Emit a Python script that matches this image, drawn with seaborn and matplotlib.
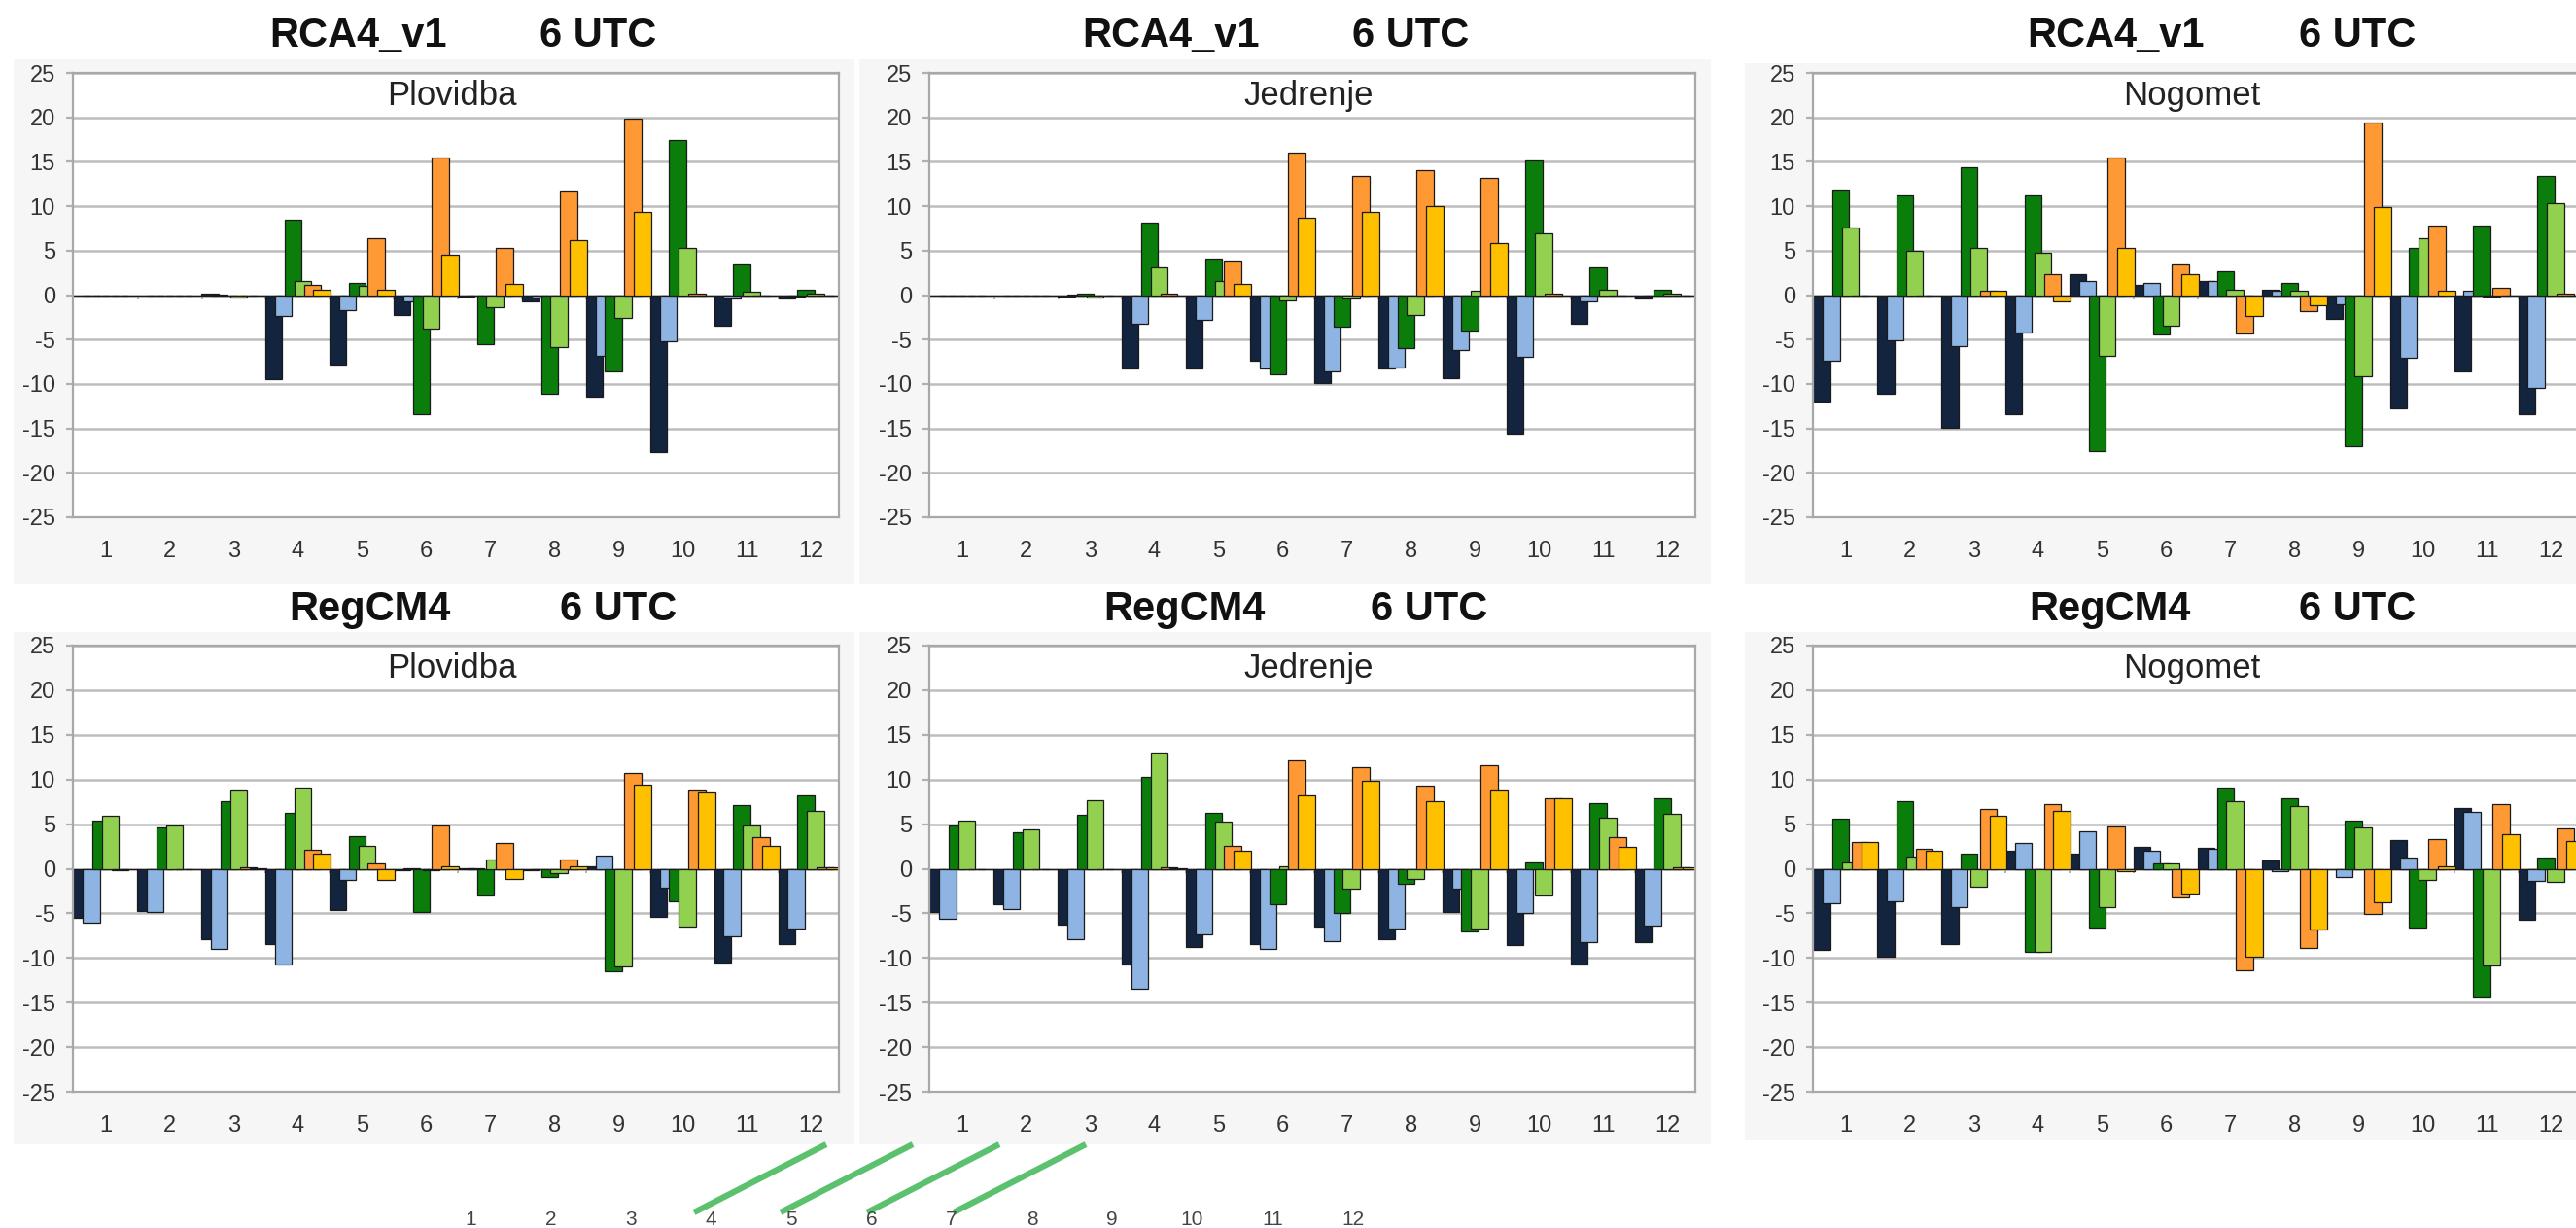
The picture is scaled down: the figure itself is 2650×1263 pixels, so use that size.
import numpy as np
import pandas as pd
import matplotlib
matplotlib.use("Agg")
import matplotlib.pyplot as plt
import seaborn as sns
from matplotlib.patches import Rectangle
from matplotlib.lines import Line2D

# ---------------- data ----------------
months = list(range(1, 13))
month_labels = [str(m) for m in months]
yticks = list(range(-25, 30, 5))
ytick_labels = [str(v) for v in yticks]
series_colors = ["#13243f", "#8db4e2", "#0b7d0b", "#92d050", "#ff9933", "#ffc000"]

# rows: navy, light blue, dark green, light green, orange, yellow ; columns: months 1..12
rca4_plovidba = [
    [0, 0, 0.2, -9.5, -7.8, -2.2, -0.2, -0.7, -11.4, -17.7, -3.5, -0.4],
    [0, 0, 0.1, -2.4, -1.7, -0.7, -0.1, -0.3, -6.8, -5.2, -0.4, -0.2],
    [0, 0, -0.1, 8.5, 1.4, -13.4, -5.5, -11.1, -8.6, 17.5, 3.4, 0.6],
    [0, 0, -0.3, 1.6, 1.0, -3.8, -1.4, -5.9, -2.6, 5.3, 0.4, 0.2],
    [0, 0, 0, 1.1, 6.4, 15.5, 5.3, 11.8, 19.9, 0.2, 0, 0],
    [0, 0, 0, 0.6, 0.6, 4.5, 1.3, 6.2, 9.3, 0, 0, 0],
]
rca4_jedrenje = [
    [0, 0, -0.2, -8.3, -8.3, -7.4, -9.9, -8.3, -9.4, -15.6, -3.2, -0.4],
    [0, 0, 0.1, -3.2, -2.8, -8.3, -8.6, -8.1, -6.2, -6.9, -0.7, -0.1],
    [0, 0, 0.2, 8.1, 4.1, -8.9, -3.6, -6.0, -4.0, 15.2, 3.1, 0.6],
    [0, 0, -0.3, 3.1, 1.6, -0.6, -0.4, -2.2, 0.5, 7.0, 0.6, 0.2],
    [0, 0, 0, 0.2, 3.9, 16.0, 13.4, 14.1, 13.2, 0.2, 0, 0],
    [0, 0, 0, 0, 1.3, 8.7, 9.3, 10.0, 5.9, 0, 0, 0],
]
rca4_nogomet = [
    [-12.0, -11.1, -14.9, -13.4, 2.3, 1.2, 1.6, 0.6, -2.7, -12.8, -8.6, -13.4],
    [-7.4, -5.1, -5.7, -4.2, 1.6, 1.4, 1.6, 0.5, -1.0, -7.1, 0.5, -10.5],
    [11.9, 11.2, 14.4, 11.2, -17.6, -4.4, 2.7, 1.4, -17.0, 5.3, 7.8, 13.4],
    [7.6, 5.0, 5.3, 4.8, -6.8, -3.5, 0.6, 0.5, -9.1, 6.4, -0.2, 10.3],
    [0, 0, 0.5, 2.3, 15.5, 3.4, -4.3, -1.8, 19.4, 7.8, 0.8, 0.2],
    [0, 0, 0.5, -0.7, 5.3, 2.3, -2.3, -1.2, 9.9, 0.5, -0.1, 0],
]
regcm4_plovidba = [
    [-5.5, -4.7, -7.9, -8.4, -4.6, -0.2, 0.1, -0.2, 0.3, -5.4, -10.5, -8.4],
    [-6.1, -4.9, -9.0, -10.7, -1.3, 0.1, 0.1, -0.1, 1.5, -2.1, -7.6, -6.75],
    [5.4, 4.6, 7.6, 6.25, 3.7, -4.9, -3.0, -0.9, -11.5, -3.6, 7.1, 8.25],
    [5.9, 4.8, 8.75, 9.1, 2.6, -0.2, 1.0, -0.5, -10.9, -6.5, 4.8, 6.5],
    [-0.2, 0, 0.2, 2.1, 0.6, 4.8, 2.9, 1.0, 10.75, 8.8, 3.5, 0.2],
    [0, 0, 0.1, 1.7, -1.3, 0.3, -1.1, 0.3, 9.4, 8.5, 2.6, 0.2],
]
regcm4_jedrenje = [
    [-4.9, -4.0, -6.25, -10.7, -8.8, -8.4, -6.5, -7.9, -4.9, -8.6, -10.7, -8.2],
    [-5.6, -4.5, -7.9, -13.4, -7.4, -9.0, -8.1, -6.75, -2.2, -5.0, -8.2, -6.4],
    [4.9, 4.1, 6.0, 10.25, 6.25, -4.0, -5.0, -1.7, -7.0, 0.7, 7.3, 7.9],
    [5.4, 4.4, 7.7, 13.0, 5.3, 0.3, -2.2, -1.1, -6.75, -3.0, 5.7, 6.2],
    [0, 0, 0, 0.2, 2.6, 12.2, 11.4, 9.3, 11.6, 7.9, 3.5, 0.2],
    [0, 0, 0, 0.1, 2.0, 8.25, 9.9, 7.6, 8.75, 7.9, 2.5, 0.2],
]
regcm4_nogomet = [
    [-9.1, -9.9, -8.4, 2.0, 1.7, 2.5, 2.3, 0.9, 0, 3.2, 6.85, -5.75],
    [-3.9, -3.6, -4.3, 2.85, 4.2, 2.0, 2.2, -0.3, -0.9, 1.2, 6.4, -1.4],
    [5.6, 7.6, 1.7, -9.3, -6.6, 0.55, 9.05, 7.95, 5.35, -6.6, -14.3, 1.2],
    [0.75, 1.4, -2.0, -9.3, -4.3, 0.55, 7.6, 7.05, 4.6, -1.25, -10.8, -1.5],
    [3.05, 2.2, 6.75, 7.25, 4.75, -3.2, -11.4, -8.9, -5.1, 3.35, 7.25, 4.5],
    [3.05, 2.0, 5.9, 6.5, -0.3, -2.8, -9.9, -6.8, -3.8, 0.25, 3.9, 3.1],
]

model_names = ["RCA4_v1", "RegCM4"]
hour_label = "6 UTC"
activities = ["Plovidba", "Jedrenje", "Nogomet"]
panel_data = [[rca4_plovidba, rca4_jedrenje, rca4_nogomet],
              [regcm4_plovidba, regcm4_jedrenje, regcm4_nogomet]]

# ---------------- layout (pixels) ----------------
W, H, DPI = 2650, 1263, 100
sns.set_theme(style="white")
plt.rcParams["font.family"] = ["Liberation Sans", "DejaVu Sans"]

fig = plt.figure(figsize=(W / DPI, H / DPI), dpi=DPI, facecolor="white")


def rect(x0, y0, x1, y1):
    return [x0 / W, 1 - y1 / H, (x1 - x0) / W, (y1 - y0) / H]


bg_boxes = [[(14, 61, 879, 601), (884, 61, 1760, 601), (1795, 65, 2660, 601)],
            [(14, 650, 879, 1177), (884, 650, 1760, 1177), (1795, 650, 2660, 1172)]]
plot_left = [75, 956, 1865]
plot_w = 788
row_y = [(75, 532), (664, 1123)]
title_y = [37, 627]
model_x = [[368, 1204, 2177], [380, 1218, 2170]]
utc_x = [[615, 1451, 2425], [636, 1470, 2425]]

step = 0.15
bar_w = 0.265
boundaries = [m + 0.5 for m in months[:-1]]

for r in range(2):
    for c in range(3):
        x0, y0, x1, y1 = bg_boxes[r][c]
        fig.add_artist(Rectangle((x0 / W, 1 - y1 / H), (x1 - x0) / W, (y1 - y0) / H,
                                 transform=fig.transFigure, facecolor="#f6f6f6",
                                 edgecolor="none", zorder=-10))
        fig.text(model_x[r][c] / W, 1 - title_y[r] / H, model_names[r], ha="center",
                 va="center", fontsize=30, fontweight="bold", color="#111111")
        fig.text(utc_x[r][c] / W, 1 - title_y[r] / H, hour_label, ha="center",
                 va="center", fontsize=30, fontweight="bold", color="#111111")

        ax = fig.add_axes(rect(plot_left[c], row_y[r][0], plot_left[c] + plot_w, row_y[r][1]))
        ax.set_facecolor("white")
        ax.set_axisbelow(True)
        # small category tick marks hanging below the zero line
        ax.vlines(boundaries, -0.45, 0, color="#b0b0b0", linewidth=1.4, zorder=0.5)
        data = panel_data[r][c]
        for i, vals in enumerate(data):
            xpos = np.array(months, dtype=float) + (i - 2.5) * step
            df = pd.DataFrame({"pos": xpos, "value": vals})
            sns.barplot(data=df, x="pos", y="value", native_scale=True, width=bar_w,
                        color=series_colors[i], saturation=1, edgecolor="#1a1a1a",
                        linewidth=0.9, errorbar=None, ax=ax)
        ax.set_xlim(0.49, 12.44)
        ax.set_ylim(-25, 25)
        ax.set_yticks(yticks)
        ax.set_yticklabels(ytick_labels)
        ax.set_xticks(months)
        ax.set_xticklabels(month_labels)
        ax.set_xlabel("")
        ax.set_ylabel("")
        ax.yaxis.grid(True, color="#bdbdbd", linewidth=1.8)
        ax.xaxis.grid(False)
        ax.tick_params(axis="y", length=5, width=1.6, color="#b0b0b0", pad=8,
                       labelsize=17, labelcolor="#333333", left=True)
        ax.tick_params(axis="x", length=0, pad=17, labelsize=17, labelcolor="#333333")
        for s in ax.spines.values():
            s.set_color("#a8a8a8")
            s.set_linewidth(1.6)
        ax.text(0.495, 0.948, activities[c], transform=ax.transAxes, ha="center",
                va="center", fontsize=25, color="#222222")

# stray artefacts below the panels: clipped month labels and green strokes
extra_x0, extra_dx = 484, 82.5
for k, lab in enumerate(month_labels):
    fig.text((extra_x0 + k * extra_dx) / W, 1 - 1254 / H, lab, ha="center",
             va="center", fontsize=15, color="#444444")
stroke_tops = [850, 939, 1028, 1117]
stroke_shift = 136
for xt in stroke_tops:
    fig.add_artist(Line2D([xt / W, (xt - stroke_shift) / W], [1 - 1177 / H, 1 - 1247 / H],
                          transform=fig.transFigure, color="#5cc16e", linewidth=4.5,
                          solid_capstyle="butt"))

fig.savefig("out.png", dpi=DPI, facecolor="white")
